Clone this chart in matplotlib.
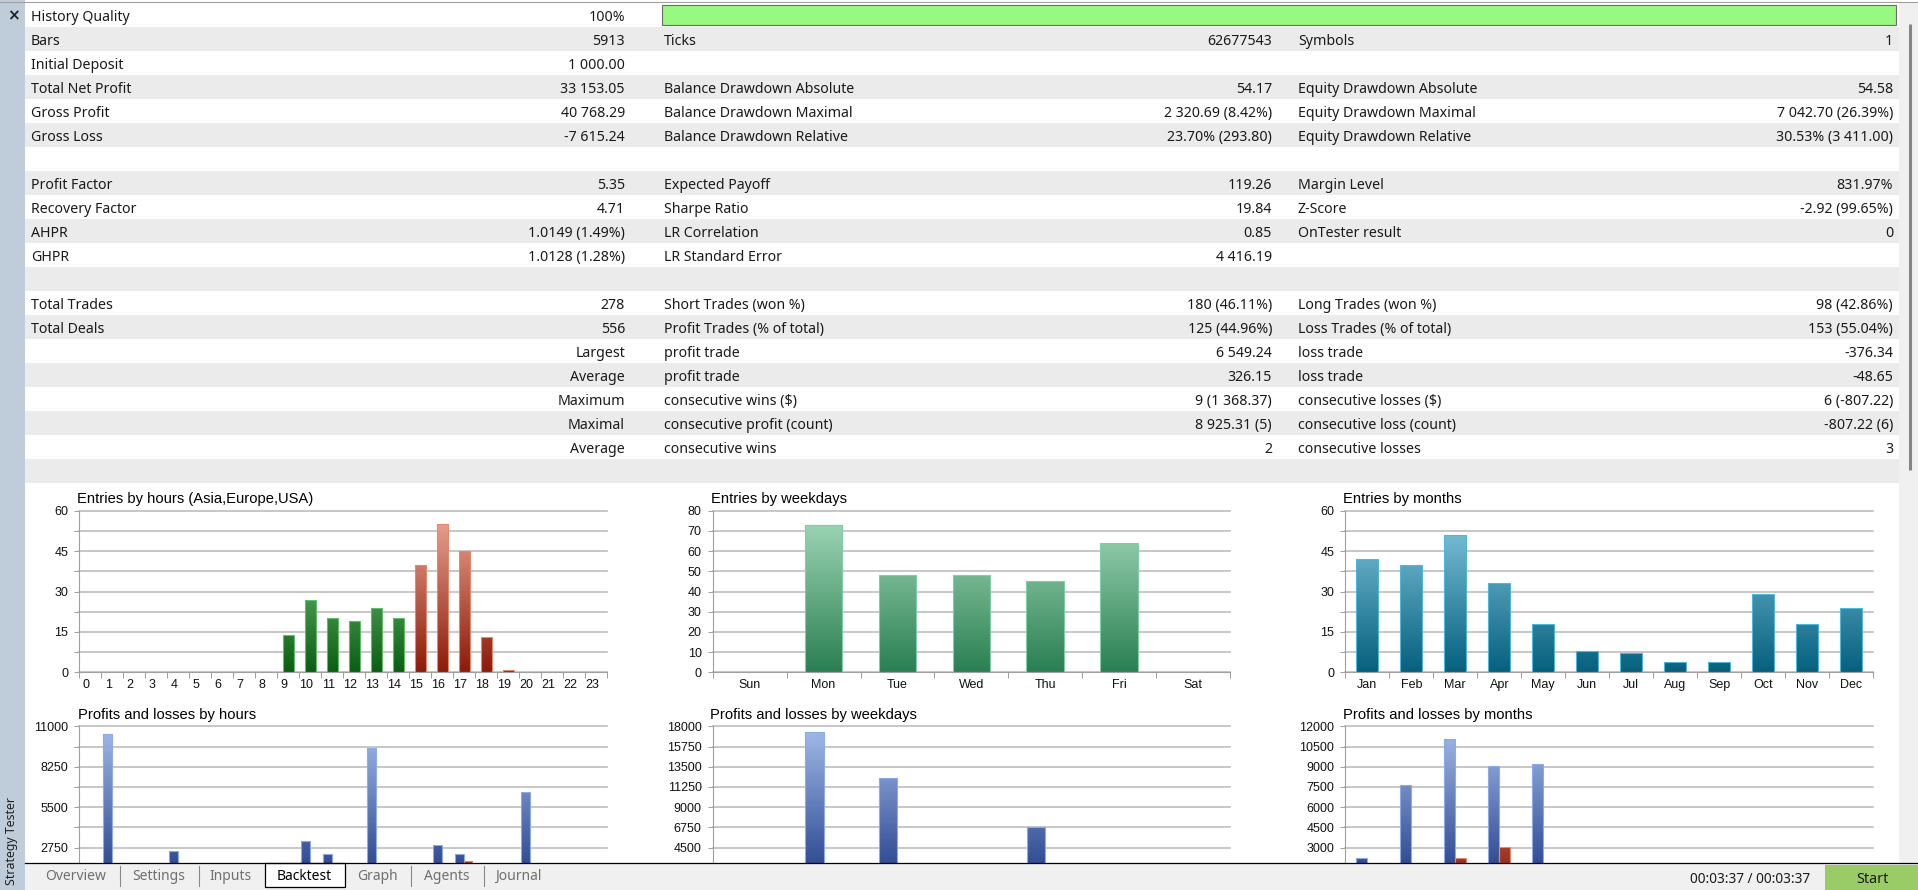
import numpy as np
import matplotlib
matplotlib.use("Agg")
import matplotlib.pyplot as plt
from matplotlib.colors import LinearSegmentedColormap
from matplotlib.patches import Rectangle
from matplotlib.transforms import ScaledTranslation

# ---------------- report table (20 rows, three label/value column pairs) ----------------
col1_labels = ["History Quality", "Bars", "Initial Deposit", "Total Net Profit", "Gross Profit", "Gross Loss", "",
               "Profit Factor", "Recovery Factor", "AHPR", "GHPR", "",
               "Total Trades", "Total Deals", "", "", "", "", "", ""]
col1_values = ["100%", "5913", "1 000.00", "33 153.05", "40 768.29", "-7 615.24", "",
               "5.35", "4.71", "1.0149 (1.49%)", "1.0128 (1.28%)", "",
               "278", "556", "Largest", "Average", "Maximum", "Maximal", "Average", ""]
col2_labels = ["", "Ticks", "", "Balance Drawdown Absolute", "Balance Drawdown Maximal", "Balance Drawdown Relative", "",
               "Expected Payoff", "Sharpe Ratio", "LR Correlation", "LR Standard Error", "",
               "Short Trades (won %)", "Profit Trades (% of total)", "profit trade", "profit trade",
               "consecutive wins ($)", "consecutive profit (count)", "consecutive wins", ""]
col2_values = ["", "62677543", "", "54.17", "2 320.69 (8.42%)", "23.70% (293.80)", "",
               "119.26", "19.84", "0.85", "4 416.19", "",
               "180 (46.11%)", "125 (44.96%)", "6 549.24", "326.15", "9 (1 368.37)", "8 925.31 (5)", "2", ""]
col3_labels = ["", "Symbols", "", "Equity Drawdown Absolute", "Equity Drawdown Maximal", "Equity Drawdown Relative", "",
               "Margin Level", "Z-Score", "OnTester result", "", "",
               "Long Trades (won %)", "Loss Trades (% of total)", "loss trade", "loss trade",
               "consecutive losses ($)", "consecutive loss (count)", "consecutive losses", ""]
col3_values = ["", "1", "", "54.58", "7 042.70 (26.39%)", "30.53% (3 411.00)", "",
               "831.97%", "-2.92 (99.65%)", "0", "", "",
               "98 (42.86%)", "153 (55.04%)", "-376.34", "-48.65", "6 (-807.22)", "-807.22 (6)", "3", ""]
history_quality = 100

# ---------------- chart data ----------------
hours = ["0", "1", "2", "3", "4", "5", "6", "7", "8", "9", "10", "11",
         "12", "13", "14", "15", "16", "17", "18", "19", "20", "21", "22", "23"]
hour_sessions = ["Asia"] * 9 + ["Europe"] * 6 + ["USA"] * 9
entries_hours = [0, 0, 0, 0, 0, 0, 0, 0, 0, 14, 27, 20, 19, 24, 20, 40, 55, 45, 13, 1, 0, 0, 0, 0]
profit_hours = [0, 10500, 0, 0, 2510, 0, 0, 0, 0, 0, 3170, 2290, 0, 9500, 0, 0, 2900, 2290, 0, 0, 6549, 0, 0, 0]
loss_hours = [0, 0, 0, 0, 0, 0, 0, 0, 0, 0, 0, 0, 0, 0, 0, 0, 0, 1830, 0, 0, 0, 0, 0, 0]

weekdays = ["Sun", "Mon", "Tue", "Wed", "Thu", "Fri", "Sat"]
entries_weekdays = [0, 73, 48, 48, 45, 64, 0]
profit_weekdays = [0, 17370, 12200, 0, 6820, 0, 0]
loss_weekdays = [0, 0, 0, 0, 0, 0, 0]

months = ["Jan", "Feb", "Mar", "Apr", "May", "Jun", "Jul", "Aug", "Sep", "Oct", "Nov", "Dec"]
entries_months = [42, 40, 51, 33, 18, 8, 7, 4, 4, 29, 18, 24]
profit_months = [2240, 7640, 11060, 9030, 9200, 0, 0, 0, 0, 0, 0, 0]
loss_months = [0, 0, 2220, 3060, 0, 0, 0, 0, 0, 0, 0, 0]

tabs = ["Overview", "Settings", "Inputs", "Backtest", "Graph", "Agents", "Journal"]

W, H, DPI = 1918, 890, 100
TFONT = "Noto Sans"
CFONT = "Liberation Sans"

GREEN = ("#0a5e12", "#8fd894", "#5fbf68")
RED = ("#8c1a08", "#eeaa98", "#e8866e")
BLUE = ("#1c3a86", "#a4bcea", "#8eaae6")
MINT = ("#2a7f52", "#a6dcbc", "#7fcfa5")
TEAL = ("#05607e", "#88cae0", "#4cb8dc")
session_colors = {"Asia": BLUE, "Europe": GREEN, "USA": RED}

fig = plt.figure(figsize=(W / DPI, H / DPI), dpi=DPI)
bg = fig.add_axes([0, 0, 1, 1])
bg.set_xlim(0, W)
bg.set_ylim(H, 0)
bg.axis("off")

# left strip, top border, scrollbar
bg.add_patch(Rectangle((0, 0), 25, H, color="#bfcddb", lw=0))
bg.plot([0, W], [1.8, 1.8], color="#a0a0a0", lw=0.8)
bg.add_patch(Rectangle((1899, 3), W - 1899, 860, color="#f0f0f0", lw=0))
bg.plot([1909.5, 1909.5], [24, 470], color="#858585", lw=2.2, solid_capstyle="butt")
bg.text(13, 15.5, "\u00d7", ha="center", va="center", fontsize=11, fontweight="bold", color="#222222")


def cell(x, y, s, ha):
    bg.text(x, y, s, ha=ha, va="baseline", fontsize=10.2, family=TFONT, color="#1a1a1a")


for i in range(len(col1_labels)):
    y0 = 3 + 24 * i
    if i % 2:
        bg.add_patch(Rectangle((25, y0), 1874, 24, color="#ebebeb", lw=0))
    base = y0 + 17.7
    cell(31, base, col1_labels[i], "left")
    cell(625, base, col1_values[i], "right")
    cell(664, base, col2_labels[i], "left")
    cell(1272, base, col2_values[i], "right")
    cell(1298, base, col3_labels[i], "left")
    cell(1893, base, col3_values[i], "right")

# history quality bar
bg.add_patch(Rectangle((662, 5), (1896 - 662) * history_quality / 100, 19.5,
                       facecolor="#98f880", edgecolor="#6b6b6b", lw=0.8))


def make_axes(x, y, w, h=161.6):
    return fig.add_axes([x / W, 1 - (y + h) / H, w / W, h / H])


def style_axes(ax, cats, ymax, step, every, show_x=True, shift=0):
    n = len(cats)
    ax.set_facecolor("none")
    ax.set_xlim(-0.5, n - 0.5)
    ax.set_ylim(0, ymax)
    ticks = np.arange(0, ymax + step / 2, step)
    ax.set_yticks(ticks)
    # lower charts: the zero line sits behind the tab bar, so its label is left out
    ylabels = [f"{t:g}" if k % every == 0 and (show_x or k > 0) else "" for k, t in enumerate(ticks)]
    ax.set_yticklabels(ylabels, family=CFONT, fontsize=9, color="#111111")
    ax.set_xticks(np.arange(n))
    ax.set_xticklabels(cats, family=CFONT, fontsize=9, color="#111111")
    ax.set_xticks(np.arange(n + 1) - 0.5, minor=True)
    ax.tick_params(axis="y", length=3.6, width=0.72, color="#a0a0a0", pad=4.3)
    ax.tick_params(axis="x", which="major", length=0, pad=5, labelbottom=show_x)
    ax.tick_params(axis="x", which="minor", length=4.3, width=0.72, color="#a0a0a0")
    if shift:
        off = ScaledTranslation(shift / DPI, 0, fig.dpi_scale_trans)
        for lbl in ax.xaxis.get_majorticklabels():
            lbl.set_transform(lbl.get_transform() + off)
    ax.yaxis.grid(True, color="#bdbdbd", lw=1.2)
    for gl in ax.get_ygridlines():
        gl.set_clip_on(False)
    ax.set_axisbelow(True)
    for s in ("top", "right"):
        ax.spines[s].set_visible(False)
    for s in ("left", "bottom"):
        ax.spines[s].set_color("#a0a0a0")
        ax.spines[s].set_linewidth(0.8)


def gradient_bars(ax, pos, vals, width, ymax, colors):
    lo, hi, edge = colors
    cmap = LinearSegmentedColormap.from_list("g", [lo, hi])
    grad = np.linspace(0, 1, 256).reshape(-1, 1)
    bars = ax.bar(pos, vals, width=width, facecolor="none", edgecolor=edge, linewidth=0.8, zorder=3)
    for b, v in zip(bars, vals):
        if v <= 0:
            b.set_visible(False)
            continue
        im = ax.imshow(grad, extent=[b.get_x(), b.get_x() + b.get_width(), 0, ymax], origin="lower",
                       aspect="auto", cmap=cmap, vmin=0, vmax=1, zorder=2, interpolation="bilinear")
        im.set_clip_path(b)


# ---- entries charts ----
hx = np.arange(len(hours))
wx = np.arange(len(weekdays))
mx = np.arange(len(months))

ax = make_axes(79.3, 510.7, 528)
for sess, cols in session_colors.items():
    vals = [v if s == sess else 0 for v, s in zip(entries_hours, hour_sessions)]
    gradient_bars(ax, hx, vals, 0.5, 60, cols)
style_axes(ax, hours, 60, 7.5, 2, shift=-4)
bg.text(77, 503.3, "Entries by hours (Asia,Europe,USA)", family=CFONT, fontsize=10.6, va="baseline")

ax = make_axes(712.7, 510.7, 517.3)
gradient_bars(ax, wx, entries_weekdays, 0.51, 80, MINT)
style_axes(ax, weekdays, 80, 10, 1)
bg.text(710.7, 503.3, "Entries by weekdays", family=CFONT, fontsize=10.6, va="baseline")

ax = make_axes(1345.3, 510.7, 528)
gradient_bars(ax, mx, entries_months, 0.5, 60, TEAL)
style_axes(ax, months, 60, 7.5, 2)
bg.text(1343.3, 503.3, "Entries by months", family=CFONT, fontsize=10.6, va="baseline")

# ---- profits and losses charts (their lower part is hidden behind the tab bar) ----
ax = make_axes(79.3, 726.3, 528)
gradient_bars(ax, hx - 0.22, profit_hours, 0.37, 11000, BLUE)
gradient_bars(ax, hx + 0.18, loss_hours, 0.37, 11000, RED)
style_axes(ax, hours, 11000, 1375, 2, show_x=False)
bg.text(77.6, 718.9, "Profits and losses by hours", family=CFONT, fontsize=10.6, va="baseline")

ax = make_axes(712.7, 726.3, 517.3)
gradient_bars(ax, wx - 0.125, profit_weekdays, 0.25, 18000, BLUE)
gradient_bars(ax, wx + 0.125, loss_weekdays, 0.25, 18000, RED)
style_axes(ax, weekdays, 18000, 2250, 1, show_x=False)
bg.text(710.2, 718.9, "Profits and losses by weekdays", family=CFONT, fontsize=10.6, va="baseline")

ax = make_axes(1345.3, 726.3, 528)
gradient_bars(ax, mx - 0.125, profit_months, 0.25, 12000, BLUE)
gradient_bars(ax, mx + 0.125, loss_months, 0.25, 12000, RED)
style_axes(ax, months, 12000, 1500, 1, show_x=False)
bg.text(1343.3, 718.9, "Profits and losses by months", family=CFONT, fontsize=10.6, va="baseline")

# ---- bottom tab bar (drawn over the charts) ----
ov = fig.add_axes([0, 0, 1, 1])
ov.set_zorder(10)
ov.set_xlim(0, W)
ov.set_ylim(H, 0)
ov.axis("off")
ov.add_patch(Rectangle((25, 862.5), W - 25, H - 862.5, color="#f0f0f0", lw=0))
ov.add_patch(Rectangle((264.5, 862.5), 80.5, 24, facecolor="white", edgecolor="black", lw=0.9))
ov.plot([25, W], [862.5, 862.5], color="black", lw=0.9)
tab_centers = [75.5, 158.4, 230.6, 304.5, 377.6, 447, 518.4]
for name, xc in zip(tabs, tab_centers):
    ov.text(xc, 880, name, ha="center", va="baseline", family=TFONT, fontsize=10,
            color="black" if name == "Backtest" else "#707070")
for xs in [119.6, 198.8, 411.4, 483.7]:
    ov.plot([xs, xs], [866, 886], color="#8a8a8a", lw=0.8)
ov.text(12, 841, "Strategy Tester", rotation=90, ha="center", va="center", family=TFONT,
        fontsize=8.9, color="#202020")
ov.text(1810.6, 883, "00:03:37 / 00:03:37", ha="right", va="baseline", family=TFONT,
        fontsize=9.8, color="#1a1a1a")
ov.add_patch(Rectangle((1825, 865), W - 1825, H - 865, color="#99cc66", lw=0))
ov.text(1872, 882.7, "Start", ha="center", va="baseline", family=TFONT, fontsize=10.3, color="#1a1a1a")

fig.savefig("out.png", dpi=DPI)
